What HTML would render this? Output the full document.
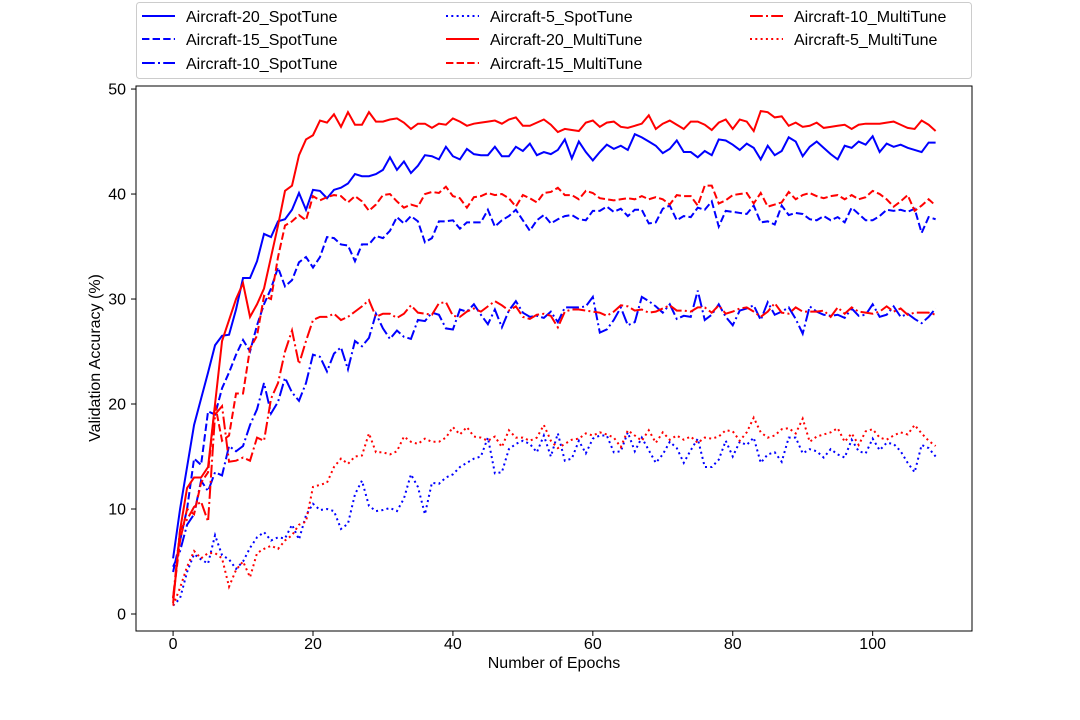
<!DOCTYPE html>
<html><head><meta charset="utf-8"><style>
body{margin:0;background:#fff;}
svg{display:block;font-family:"Liberation Sans","DejaVu Sans",sans-serif;}
</style></head><body>
<svg id="chart" width="1080" height="720" viewBox="0 0 1080 720" xmlns="http://www.w3.org/2000/svg">
<rect x="0" y="0" width="1080" height="720" fill="#fff"/>
<g id="plot"></g>
<rect x="136" y="86" width="836" height="545" fill="none" stroke="#000" stroke-width="1"/>
<g id="axes"></g>
<text x="554" y="668" font-size="16" text-anchor="middle">Number of Epochs</text>
<text transform="translate(100,358) rotate(-90)" font-size="16" text-anchor="middle">Validation Accuracy (%)</text>
<g id="legend"></g>
</svg>
<script>
const xTicks=[0,20,40,60,80,100];
const yTicks=[0,10,20,30,40,50];
const seriesNames=["Aircraft-20_SpotTune","Aircraft-15_SpotTune","Aircraft-10_SpotTune","Aircraft-5_SpotTune","Aircraft-20_MultiTune","Aircraft-15_MultiTune","Aircraft-10_MultiTune","Aircraft-5_MultiTune"];
const spot20=[5.3,10,14,18,20.5,23,25.6,26.5,26.6,29,32,32,33.6,36.2,35.9,37.4,37.6,38.5,40.1,38.5,40.4,40.3,39.6,40.4,40.6,41,41.9,41.7,41.7,41.9,42.3,43.5,42.3,43.1,42,42.7,43.7,43.6,43.3,44.5,43.6,43.3,44.3,43.8,43.7,43.7,44.5,43.6,43.6,44.5,44.1,44.8,43.7,44,43.8,44.2,45.2,43.4,45,44,43.2,44,44.7,44.3,44.6,44.2,45.7,45.4,45,44.6,43.9,44.3,45.1,44,44,43.5,44.1,43.7,45.2,45.1,44.7,44.2,44.8,44.4,43.3,44.6,43.7,44.1,45.4,45,43.6,44.5,45,44.4,43.8,43.3,44.6,44.4,45,44.7,45.5,44,44.8,44.5,44.7,44.4,44.2,44,44.9,44.9];
const spot15=[4,7,10,14.8,14.2,19.3,19,21.5,23,24.7,26.1,25,27.5,29.5,31,33,31.2,31.8,33.5,34,33,34,35.9,35.8,35.2,35.1,33.6,35.2,35.2,36,35.8,36.5,37.8,37.2,37.9,37.4,35.4,35.8,37.4,37.4,37.5,36.7,37.3,37.3,37.3,38.5,36.9,37.5,37.9,38.5,37.5,36.5,37.5,38,37.2,37.6,37.9,38,37.6,37.5,38.4,38.4,38.8,38.3,38.6,37.9,38.5,38.5,37.2,37.3,38.6,38.9,37.5,37.9,37.8,38.7,38.5,39.3,36.9,38.4,38.3,38.2,38.1,38.9,37.3,37.4,37.1,38.9,38,38.2,38.1,37.6,37.5,37.9,37.5,37.8,37.3,38.7,38.1,37.5,37.5,37.9,38.5,38.4,38.5,38.3,38.6,36.3,37.8,37.6];
const spot10=[4.5,6,8.5,9.5,12.7,11.7,13.5,13.2,16,15.5,16,18,19.5,22,19.1,20.2,22.5,21.1,20.3,22,24.7,24.5,23.1,24.8,25.4,23.3,26,25.5,26.3,28.6,27.2,26.2,27,26.4,26.2,28,27.9,28.7,28.5,27.2,27.1,29,28.8,29.5,28.5,27.6,29,27.3,28.9,29.8,28.7,28.3,28.4,28.2,28.8,27.8,29.2,29.2,29.2,29.3,30.2,26.8,27.1,28,29.2,27.5,27.8,30.2,29.8,29.3,28.7,29.5,28.1,28.4,28.3,30.8,28,28.5,29.5,28.3,27.5,28.9,29.1,29.4,28,29.7,28.5,28.8,29.2,28.1,26.7,29.3,28.8,28.5,28.4,28.5,28.2,29.1,28.4,28.5,29.5,28.3,28.5,29.3,28.3,28.6,28.1,27.7,28.3,29.1];
const spot5=[0.8,1.5,4,5.7,5.2,4.8,7.5,5.6,5.2,4.3,5,6.3,7.3,7.8,7,7.3,7.2,8.5,7.1,9.4,10.5,9.9,10,9.8,8.1,8.6,11.4,12.7,10.3,9.8,9.9,10.1,9.8,11,13.3,12.1,9.5,12.5,12.4,13,13.3,14,14.4,14.8,15,16.8,13.4,13.5,15.7,16.2,16.5,16.2,15.4,17,15,17.2,14.6,14.8,16.5,15.3,16.7,17,17,15.4,15.5,17.3,15.5,16.8,15.6,14.4,15.2,16.4,15.8,14.4,15.6,16.7,14,14,14.7,16.5,15,16.4,16.1,16.8,14.4,15.2,15.4,14.5,16.8,16.8,15.3,15.7,15.5,14.9,15.7,15.2,14.9,16.6,15.5,15.3,16.7,15.6,16.3,16.2,15.5,14.4,13.5,16.1,15.8,15];
const multi20=[1,8,12,13,13,14,20,26,28,30,31.5,28.3,29.5,31,34,37,40.3,40.8,43.7,45.2,45.6,47,46.8,47.6,46.4,47.8,46.6,46.6,47.8,46.9,46.9,47.1,47.2,46.8,46.2,46.7,46.7,46.3,46.7,46.6,47.2,46.9,46.5,46.7,46.8,46.9,47,46.7,47.1,47.3,46.5,46.5,46.8,47.1,46.6,45.9,46.2,46.1,46,46.8,47,46.4,46.8,46.9,46.4,46.3,46.5,46.7,47.5,46.2,46.7,47,46.6,46.2,46.9,46.9,46.6,46.1,46.8,47.1,46.2,47.1,46.9,46,47.9,47.8,47.3,47.4,46.5,46.8,46.4,46.5,46.8,46.3,46.4,46.5,46.6,46.2,46.6,46.7,46.7,46.7,46.8,46.9,46.6,46.3,46.2,47,46.6,46];
const multi15=[1.5,7,10,9.5,12.5,13.5,20,16.5,17,21,21,25.3,26.5,30.3,30,34,37,37.4,38,37.5,39.8,39.4,39.7,39.9,39.8,39.2,39.8,39.3,38.4,39,39.9,40,39.3,38.7,39,38.8,40,40.2,40.1,40.7,39.8,39.6,38.7,39.7,39.8,40.1,39.9,40,39.6,38.8,39.9,39.6,39.2,40.1,40.2,40.6,39.9,39.9,39.5,40.3,40.1,39.6,39.5,39.4,39.5,39.6,39.5,39.8,39.5,39.7,39.5,39,39.9,39.8,39.8,38.9,40.8,40.8,39.1,39.4,39.9,40,40.1,39.1,40.1,38.8,39,39.2,40.2,39.5,39.9,40.1,39.8,39.6,39.8,39.9,39.5,39.9,39.5,39.7,40.3,40,39.5,38.8,39.3,39.9,38.4,38.9,39.5,38.9];
const multi10=[1.5,8,9,10.2,10.7,8.8,19,19.8,14.5,14.6,14.9,14.6,16.8,16.5,20.5,22,25,27,23.8,26,28,28.3,28.3,28.6,28,28.3,28.8,29.3,29.9,28.3,28.6,28.6,28.2,28.6,29.4,28.7,28.6,28.5,29.6,29.7,28.4,28.3,28.8,29.1,28.8,29.3,29.8,29.4,28.9,29.3,28.3,28.1,28.5,28.6,28.4,27.3,28.8,29,29,28.9,28.8,28.7,28.4,28.8,29.4,29.3,28.9,29,28.7,28.8,29.1,29.4,28.9,28.9,28.8,29.2,29.2,28.7,29.4,28.6,28.8,29.1,29.2,28.8,28.3,28.8,29.6,28.7,28.6,29.2,28.8,28.8,28.8,28.9,28.3,29.2,28.6,29.2,28.8,28.7,28.6,28.8,29.3,28.8,29.1,28.5,28.7,28.7,28.7,28.5];
const multi5=[0.8,2.5,4.5,6,5.3,5.8,5.8,5.3,2.6,4.2,5,3.5,5.8,6.2,6.5,6.2,7,7.5,8.5,8.8,12.1,12.3,12.5,14,14.8,14.3,15,15.1,17.2,15.4,15.4,15.2,15.5,16.9,16.4,16.2,16.7,16.4,16.4,16.8,17.8,17.1,17.8,16.9,16.8,16.5,16.9,15.9,17.5,16.8,16.8,16.5,16.8,18,16.5,15.8,16.2,16.6,16.7,17.2,17,17.3,17.1,16.8,15.9,17.5,17,16.5,17.5,16.3,17.3,16.6,17,16.6,16.9,16.3,16.8,16.7,16.9,17.5,17.4,16.5,17.3,18.7,17.3,16.8,17,17.6,17.7,17.2,18.6,16.4,16.9,17.1,17.3,17.7,16.4,17.2,16.1,17.4,17.6,16.8,16.6,17,17.3,17.1,18,17.2,16.5,16];

const NS="http://www.w3.org/2000/svg";
const X0=136,X1=972,Y0=86,Y1=631;
const xMin=-5.3,xMax=114.2,yMin=-1.62,yMax=50.29;
function xs(v){return X0+(v-xMin)/(xMax-xMin)*(X1-X0);}
function ys(v){return Y1-(v-yMin)/(yMax-yMin)*(Y1-Y0);}
const BLUE="#0000ff",RED="#ff0000";
const DASH={solid:"",dashed:"7.4,3.2",dashdot:"12.8,3.2,2,3.2",dotted:"2,3.3"};
const seriesData=[spot20,spot15,spot10,spot5,multi20,multi15,multi10,multi5];
const seriesColors=[BLUE,BLUE,BLUE,BLUE,RED,RED,RED,RED];
const seriesStyles=["solid","dashed","dashdot","dotted","solid","dashed","dashdot","dotted"];

const plot=document.getElementById("plot");
seriesData.forEach((arr,i)=>{
  const p=document.createElementNS(NS,"path");
  let d=arr.map((v,k)=>(k?"L":"M")+xs(k).toFixed(2)+","+ys(v).toFixed(2)).join("");
  p.setAttribute("d",d);
  p.setAttribute("fill","none");
  p.setAttribute("stroke",seriesColors[i]);
  p.setAttribute("stroke-width","2");
  if(DASH[seriesStyles[i]])p.setAttribute("stroke-dasharray",DASH[seriesStyles[i]]);
  
  
  plot.appendChild(p);
});

const axes=document.getElementById("axes");
xTicks.forEach(t=>{
  const x=xs(t);
  const l=document.createElementNS(NS,"line");
  l.setAttribute("x1",x);l.setAttribute("x2",x);l.setAttribute("y1",Y1);l.setAttribute("y2",Y1+5);
  l.setAttribute("stroke","#000");
  
  
  axes.appendChild(l);
  const tx=document.createElementNS(NS,"text");
  tx.setAttribute("x",x);tx.setAttribute("y",Y1+18);tx.setAttribute("font-size","16");tx.setAttribute("text-anchor","middle");
  tx.textContent=t;
  
  
  axes.appendChild(tx);
});
yTicks.forEach(t=>{
  const y=ys(t);
  const l=document.createElementNS(NS,"line");
  l.setAttribute("x1",X0-5);l.setAttribute("x2",X0);l.setAttribute("y1",y);l.setAttribute("y2",y);
  l.setAttribute("stroke","#000");
  
  
  axes.appendChild(l);
  const tx=document.createElementNS(NS,"text");
  tx.setAttribute("x",X0-10);tx.setAttribute("y",y+5.5);tx.setAttribute("font-size","16");tx.setAttribute("text-anchor","end");
  tx.textContent=t;
  
  
  axes.appendChild(tx);
});

const legend=document.getElementById("legend");
const box=document.createElementNS(NS,"rect");
box.setAttribute("x","136.5");box.setAttribute("y","2.5");box.setAttribute("width","835");box.setAttribute("height","76");
box.setAttribute("rx","3");box.setAttribute("fill","#fff");box.setAttribute("stroke","#ccc");


legend.appendChild(box);
const order=[0,1,2,3,4,5,6,7];
const colX=[142,446,750],rowY=[16,39,63];
order.forEach((si,k)=>{
  const c=Math.floor(k/3),r=k%3;
  const g=document.createElementNS(NS,"g");
  
  
  const l=document.createElementNS(NS,"line");
  l.setAttribute("x1",colX[c]);l.setAttribute("x2",colX[c]+33);l.setAttribute("y1",rowY[r]);l.setAttribute("y2",rowY[r]);
  l.setAttribute("stroke",seriesColors[si]);l.setAttribute("stroke-width","2");
  if(DASH[seriesStyles[si]])l.setAttribute("stroke-dasharray",DASH[seriesStyles[si]]);
  g.appendChild(l);
  const t=document.createElementNS(NS,"text");
  t.setAttribute("x",colX[c]+44);t.setAttribute("y",rowY[r]+6);t.setAttribute("font-size","16");
  t.textContent=seriesNames[si];
  g.appendChild(t);
  legend.appendChild(g);
});
</script>
</body></html>
